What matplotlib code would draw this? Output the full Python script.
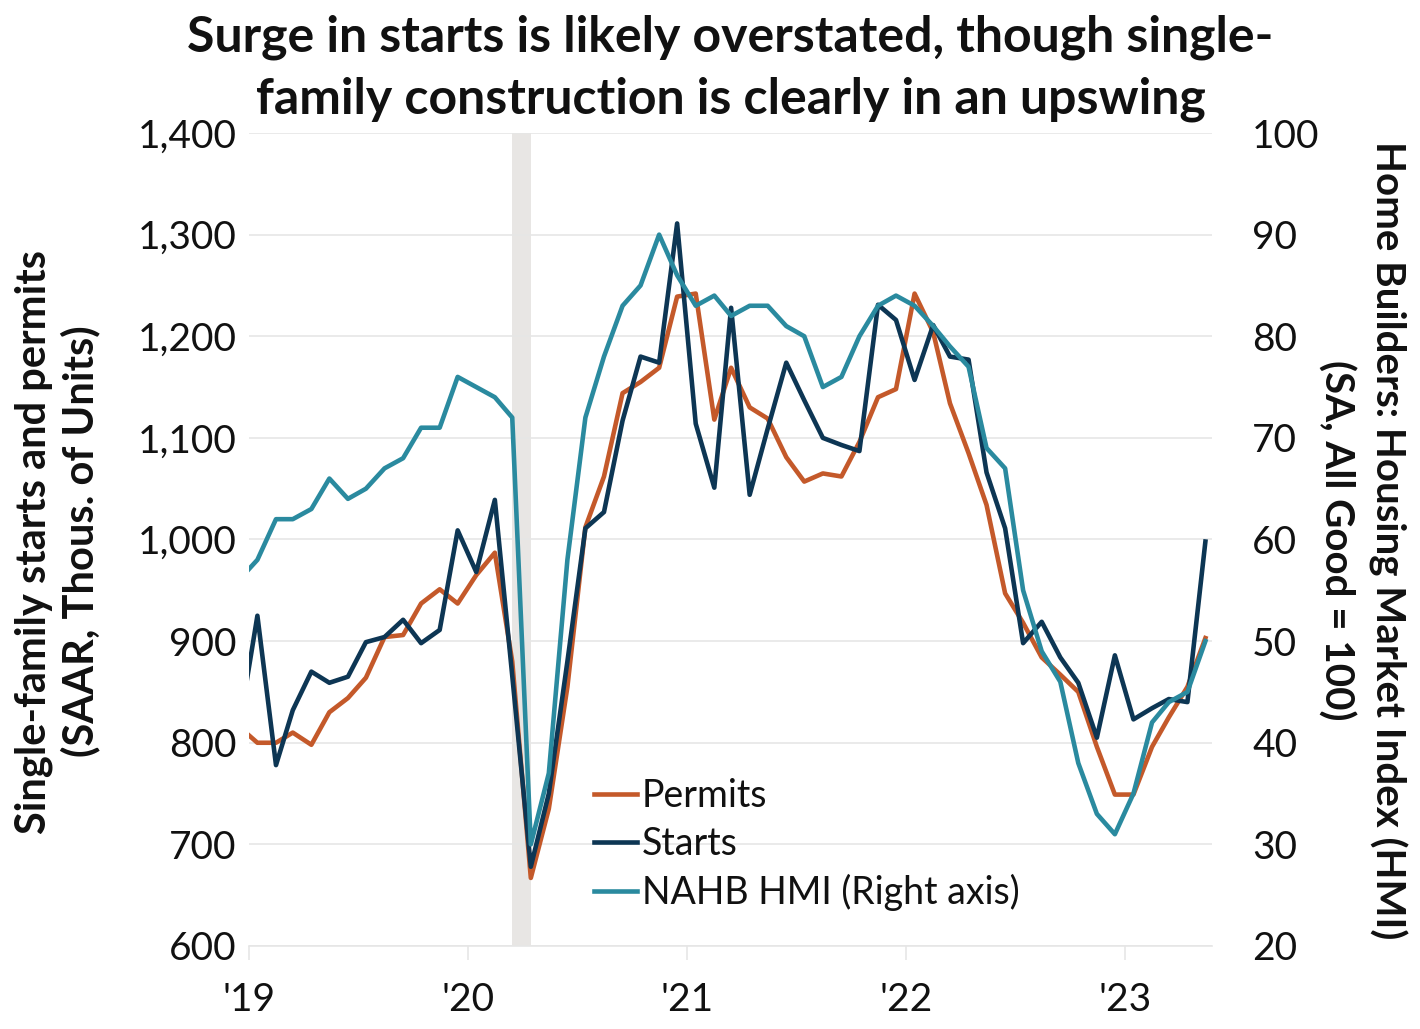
import matplotlib
matplotlib.use('Agg')
import matplotlib.pyplot as plt
import pandas as pd

plt.rcParams['font.family'] = ['Lato', 'DejaVu Sans']

# Monthly data, Dec 2018 .. May 2023 (plotted at mid-month)
months = pd.date_range('2018-12-01', periods=54, freq='MS') + pd.Timedelta(days=14)

permits = [816, 800, 800, 810, 798, 830, 844, 864, 904, 906, 937, 951, 937,
           965, 987, 880, 667, 735, 855, 1012, 1062, 1144, 1155, 1169, 1239,
           1242, 1118, 1169, 1130, 1119, 1081, 1057, 1065, 1062, 1096, 1140, 1148,
           1242, 1204, 1134, 1085, 1034, 947, 918, 884, 867, 850, 796, 749,
           749, 796, 825, 855, 903]

starts = [813, 925, 778, 832, 870, 859, 865, 899, 904, 921, 898, 911, 1009,
          968, 1039, 866, 678, 750, 880, 1011, 1027, 1117, 1180, 1174, 1311,
          1114, 1051, 1228, 1044, 1109, 1174, 1137, 1100, 1093, 1087, 1231, 1216,
          1157, 1211, 1180, 1177, 1066, 1011, 898, 919, 884, 859, 805, 886,
          823, 834, 843, 840, 998]

hmi = [56, 58, 62, 62, 63, 66, 64, 65, 67, 68, 71, 71, 76,
       75, 74, 72, 30, 37, 58, 72, 78, 83, 85, 90, 86,
       83, 84, 82, 83, 83, 81, 80, 75, 76, 80, 83, 84,
       83, 81, 79, 77, 69, 67, 55, 49, 46, 38, 33, 31,
       35, 42, 44, 45, 50]

recession = (pd.Timestamp('2020-03-15'), pd.Timestamp('2020-04-15'))

year_ticks = pd.to_datetime(['2019-01-01', '2020-01-01', '2021-01-01',
                             '2022-01-01', '2023-01-01'])
year_labels = ["'19", "'20", "'21", "'22", "'23"]
left_ticks = [600, 700, 800, 900, 1000, 1100, 1200, 1300, 1400]
right_ticks = [20, 30, 40, 50, 60, 70, 80, 90, 100]

c_permits = '#C4592A'
c_starts = '#0D3654'
c_hmi = '#2A8A9F'
grid_c = '#E6E6E6'
txt_c = '#111111'

fig = plt.figure(figsize=(14.2, 10.29), dpi=100)
ax = fig.add_axes([249 / 1420, 1 - 946 / 1029, (1212 - 249) / 1420, (946 - 133) / 1029])
ax2 = ax.twinx()

ax.axvspan(recession[0], recession[1], color='#E8E6E4', zorder=0, lw=0)

lp, = ax.plot(months, permits, color=c_permits, lw=3.3, zorder=3, label='Permits')
ls, = ax.plot(months, starts, color=c_starts, lw=3.3, zorder=4, label='Starts')
lh, = ax2.plot(months, hmi, color=c_hmi, lw=3.3, zorder=2, label='NAHB HMI (Right axis)')

ax.set_xlim(pd.Timestamp('2019-01-01'), pd.Timestamp('2023-05-26'))
ax.set_ylim(600, 1400)
ax2.set_ylim(20, 100)

ax.set_yticks(left_ticks)
ax.set_yticklabels([f'{v:,}' for v in left_ticks])
ax2.set_yticks(right_ticks)
ax2.set_yticklabels([str(v) for v in right_ticks])
ax.set_xticks(year_ticks)
ax.set_xticklabels(year_labels)

for a in (ax, ax2):
    for s in a.spines.values():
        s.set_visible(False)
ax.spines['bottom'].set_visible(True)
ax.spines['bottom'].set_color(grid_c)
ax.spines['bottom'].set_linewidth(1.2)

ax.grid(axis='y', color=grid_c, lw=1.2, zorder=0)
ax.set_axisbelow(True)

ax.tick_params(axis='y', length=0, pad=9, labelsize=28, labelcolor=txt_c)
ax2.tick_params(axis='y', length=0, pad=29, labelsize=28, labelcolor=txt_c)
ax.tick_params(axis='x', length=10, width=1.2, color=grid_c, pad=16,
               labelsize=28, labelcolor=txt_c)

fig.text(0.5145, 1 - 52 / 1029, 'Surge in starts is likely overstated, though single-',
         ha='center', va='baseline', fontsize=36, fontweight='bold', color=txt_c)
fig.text(0.5145, 1 - 113 / 1029, 'family construction is clearly in an upswing',
         ha='center', va='baseline', fontsize=36, fontweight='bold', color=txt_c)

lab_kw = dict(ha='center', va='center', fontsize=29, fontweight='bold', color=txt_c)
fig.text(34 / 1420, 1 - 542 / 1029, 'Single-family starts and permits', rotation=90,
         **{**lab_kw, 'fontsize': 30})
fig.text(80 / 1420, 1 - 541 / 1029, '(SAAR, Thous. of Units)', rotation=90,
         **{**lab_kw, 'fontsize': 30})
fig.text(1388 / 1420, 1 - 540 / 1029, 'Home Builders: Housing Market Index (HMI)',
         rotation=270, **lab_kw)
fig.text(1336 / 1420, 1 - 540 / 1029, '(SA, All Good = 100)', rotation=270, **lab_kw)

leg = fig.legend(handles=[lp, ls, lh], loc='upper left',
                 bbox_to_anchor=(594 / 1420, 1 - 778 / 1029),
                 frameon=False, fontsize=27, handlelength=1.15, handletextpad=0.12,
                 labelspacing=0.32, borderpad=0, borderaxespad=0)
for t in leg.get_texts():
    t.set_color(txt_c)

fig.savefig('out.png', dpi=100)
